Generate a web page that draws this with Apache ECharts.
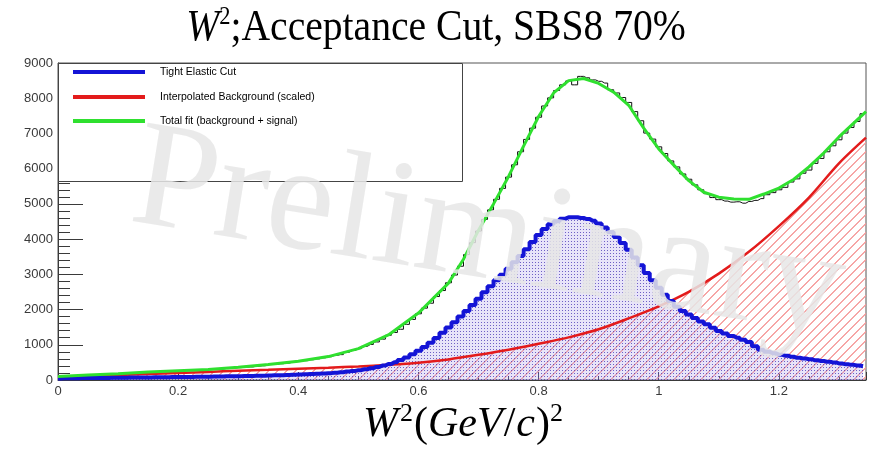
<!DOCTYPE html>
<html>
<head>
<meta charset="utf-8">
<script src="https://cdn.jsdelivr.net/npm/echarts@6/dist/echarts.min.js"></script>
<style>
  html, body { margin: 0; padding: 0; background: #fff; }
  #chart { width: 871px; height: 451px; }
</style>
</head>
<body>
<div id="chart"></div>
<script>
// W^2 spectrum with acceptance cut, SBS8 at 70% field.

// Histogram binning (bin centres) for the data and elastic histograms.
const histStart = 0;
const histWidth = 0.01;

// Measured W^2 spectrum (counts per bin).
const dataCounts = [
  95, 110, 118, 125, 132, 140, 150, 158, 165, 172,
  180, 188, 200, 205, 215, 225, 230, 240, 248, 255,
  262, 270, 268, 282, 290, 295, 305, 312, 325, 340,
  352, 365, 372, 392, 405, 440, 445, 462, 480, 505,
  530, 548, 575, 600, 630, 660, 700, 720, 790, 840,
  890, 955, 1010, 1080, 1160, 1270, 1350, 1440, 1580, 1720,
  1880, 2040, 2180, 2370, 2540, 2760, 2980, 3230, 3560, 3900,
  4230, 4560, 4830, 5130, 5440, 5760, 6110, 6480, 6830, 7150,
  7460, 7780, 8010, 8220, 8380, 8490, 8380, 8620, 8580, 8520,
  8480, 8430, 8240, 8150, 8020, 7880, 7620, 7360, 7010, 6840,
  6620, 6430, 6220, 6050, 5850, 5700, 5540, 5400, 5290, 5180,
  5120, 5080, 5050, 5060, 5020, 5070, 5100, 5150, 5260, 5320,
  5400, 5470, 5620, 5710, 5870, 5960, 6150, 6290, 6480, 6650,
  6820, 7010, 7170, 7340, 7560
];

// Tight elastic cut histogram (counts per bin).
const elasticCounts = [
  45, 48, 50, 52, 54, 55, 57, 58, 60, 62,
  64, 66, 68, 70, 72, 74, 76, 78, 80, 82,
  84, 86, 88, 90, 92, 95, 98, 100, 103, 106,
  110, 113, 117, 120, 124, 128, 132, 137, 142, 148,
  154, 160, 168, 176, 185, 195, 208, 222, 240, 258,
  280, 305, 335, 370, 410, 455, 505, 570, 640, 730,
  830, 940, 1060, 1190, 1340, 1490, 1640, 1800, 1960, 2130,
  2310, 2490, 2660, 2830, 2990, 3160, 3340, 3520, 3710, 3920,
  4120, 4290, 4420, 4510, 4580, 4620, 4620, 4600, 4570, 4520,
  4440, 4330, 4200, 4060, 3890, 3700, 3480, 3260, 3040, 2830,
  2620, 2420, 2240, 2080, 1960, 1860, 1760, 1660, 1580, 1480,
  1390, 1320, 1250, 1200, 1140, 1080, 960, 860, 800, 760,
  720, 690, 660, 630, 610, 590, 560, 540, 520, 500,
  470, 450, 430, 410, 390
];

// Interpolated background (scaled).
const backgroundX = [0, 0.05, 0.1, 0.15, 0.2, 0.25, 0.3, 0.35, 0.4, 0.45, 0.5, 0.55, 0.6, 0.65,
  0.7, 0.75, 0.8, 0.85, 0.9, 0.95, 1.0, 1.05, 1.1, 1.15, 1.2, 1.25, 1.3, 1.345];
const backgroundY = [80, 110, 140, 170, 200, 230, 265, 290, 320, 350, 385, 430, 490, 585,
  715, 860, 1030, 1210, 1440, 1750, 2090, 2500, 3020, 3640, 4370, 5180, 6150, 6880];

// Total fit (background + signal).
const fitX = [0, 0.05, 0.1, 0.15, 0.2, 0.25, 0.3, 0.35, 0.4, 0.45, 0.5, 0.55, 0.6, 0.65, 0.675,
  0.7, 0.725, 0.75, 0.775, 0.8, 0.825, 0.85, 0.875, 0.9, 0.925, 0.95, 0.975, 1.0, 1.025,
  1.05, 1.075, 1.1, 1.125, 1.15, 1.175, 1.2, 1.225, 1.25, 1.275, 1.3, 1.325, 1.345];
const fitY = [100, 140, 180, 225, 262, 295, 360, 440, 530, 665, 890, 1280, 1900, 2750, 3430,
  4250, 5000, 5780, 6640, 7480, 8150, 8500, 8560, 8420, 8170, 7800, 7150, 6560, 6100,
  5660, 5330, 5190, 5140, 5130, 5280, 5450, 5700, 6050, 6450, 6900, 7300, 7620];

const legendLabels = ['Tight Elastic Cut', 'Interpolated Background (scaled)', 'Total fit (background + signal)'];
const xRange = [0, 1.345];
const yRange = [0, 9000];

const colBlue = '#1414d6';
const colRed = '#e31b1b';
const colGreen = '#2fe02f';

function histPairs(counts) {
  return counts.map((v, i) => [+(histStart + i * histWidth).toFixed(3), v]);
}
function zip(xs, ys) { return xs.map((x, i) => [x, ys[i]]); }

// Fill textures: dotted fill for the elastic histogram, red hatching for background.
function dotTexture() {
  const c = document.createElement('canvas');
  c.width = 3; c.height = 3;
  const g = c.getContext('2d');
  g.fillStyle = 'rgba(180,165,235,0.3)';
  g.fillRect(0, 0, 3, 3);
  g.fillStyle = 'rgba(60,40,175,0.7)';
  g.fillRect(1, 1, 1, 1);
  return c;
}
function hatchTexture() {
  const n = 9;
  const c = document.createElement('canvas');
  c.width = n; c.height = n;
  const g = c.getContext('2d');
  g.fillStyle = 'rgba(245,150,150,0.85)';
  for (let i = 0; i < n; i++) {
    g.fillRect(i, n - 1 - i, 1, 1);
    g.fillRect((i + 1) % n, n - 1 - i, 1, 1);
  }
  return c;
}

// Lay out a run of differently styled text pieces side by side in a group.
const measureCtx = document.createElement('canvas').getContext('2d');
function textRun(pieces, cx, cy, sx, z) {
  let total = 0;
  const widths = pieces.map(p => { measureCtx.font = p.font; const w = measureCtx.measureText(p.t).width + (p.gap || 0); total += w; return w; });
  let x = -total / 2;
  const children = pieces.map((p, i) => {
    const el = {
      type: 'text', x: x, y: p.dy || 0, z: z, silent: true,
      style: { text: p.t, font: p.font, fill: '#000', textAlign: 'left', textVerticalAlign: 'middle', verticalAlign: 'middle' }
    };
    x += widths[i];
    return el;
  });
  return { type: 'group', x: cx, y: cy, scaleX: sx, z: z, silent: true, children: children };
}

const serif = '"Liberation Serif", "DejaVu Serif", serif';
const titleEl = textRun([
  { t: 'W', font: 'italic 44px ' + serif },
  { t: '2', font: '25px ' + serif, dy: -11 },
  { t: ';Acceptance Cut, SBS8 70%', font: '44px ' + serif }
], 436, 28, 0.9, 120);

const axisTitleEl = textRun([
  { t: 'W', font: 'italic 42px ' + serif, gap: 2 },
  { t: '2', font: '26px ' + serif, dy: -11, gap: 1 },
  { t: '(', font: '42px ' + serif },
  { t: 'GeV', font: 'italic 42px ' + serif, gap: 1 },
  { t: '/', font: '42px ' + serif, gap: 1 },
  { t: 'c', font: 'italic 42px ' + serif, gap: 1 },
  { t: ')', font: '42px ' + serif },
  { t: '2', font: '26px ' + serif, dy: -11 }
], 463, 425, 1, 120);

// Legend box drawn in the upper-left corner of the frame.
const legX = 58, legY = 63, legW = 404, legH = 118;
const legRows = [72, 97, 121];
const legColors = [colBlue, colRed, colGreen];
const legendEls = [
  { type: 'rect', z: 110, silent: true, shape: { x: legX + 0.5, y: legY + 0.5, width: legW, height: legH },
    style: { fill: '#fff', stroke: '#444', lineWidth: 1 } }
];
legRows.forEach((yy, i) => {
  legendEls.push({ type: 'line', z: 111, silent: true, shape: { x1: 73, y1: yy, x2: 145, y2: yy },
    style: { stroke: legColors[i], lineWidth: 4 } });
  legendEls.push({ type: 'text', z: 111, silent: true, x: 160, y: yy,
    style: { text: legendLabels[i], font: '10.5px "Liberation Sans", Arial, sans-serif', fill: '#000',
      textVerticalAlign: 'middle', verticalAlign: 'middle' } });
});

// "Preliminary" stamp across the plot, above the legend box.
const watermark = {
  type: 'text', z: 115, silent: true, x: 488, y: 238, rotation: -0.16,
  style: { text: 'Preliminary', font: '152px ' + serif, fill: 'rgba(230,230,230,0.85)',
    textAlign: 'center', align: 'center', textVerticalAlign: 'middle', verticalAlign: 'middle' }
};

const chart = echarts.init(document.getElementById('chart'), null, { renderer: 'canvas' });
const axisColor = '#3a3a3a';
const labelStyle = { color: '#3a3a3a', fontFamily: '"Liberation Sans", Arial, sans-serif', fontSize: 13 };

chart.setOption({
  animation: false,
  backgroundColor: '#fff',
  grid: { left: 58, right: 5, top: 63, bottom: 71, show: true, borderColor: '#555', borderWidth: 1, backgroundColor: '#fff' },
  xAxis: {
    type: 'value', min: xRange[0], max: xRange[1], interval: 0.2,
    axisLine: { show: true, lineStyle: { color: axisColor, width: 1 } },
    axisTick: { show: true, inside: true, length: 8, lineStyle: { color: axisColor } },
    minorTick: { show: true, splitNumber: 4, length: 4, lineStyle: { color: axisColor } },
    axisLabel: Object.assign({ margin: 5, showMaxLabel: false, formatter: v => String(+v.toFixed(2)) }, labelStyle),
    splitLine: { show: false }
  },
  yAxis: {
    type: 'value', min: yRange[0], max: yRange[1], interval: 1000,
    axisLine: { show: true, lineStyle: { color: axisColor, width: 1 } },
    axisTick: { show: true, inside: true, length: 25, lineStyle: { color: axisColor } },
    minorTick: { show: true, splitNumber: 5, length: 12, lineStyle: { color: axisColor } },
    axisLabel: Object.assign({ margin: 5, formatter: v => String(v) }, labelStyle),
    splitLine: { show: false }
  },
  series: [
    {
      name: 'Background fill', type: 'line', data: zip(backgroundX, backgroundY), symbol: 'none', smooth: 0.3,
      lineStyle: { width: 0, opacity: 0 }, areaStyle: { color: { image: hatchTexture(), repeat: 'repeat' }, opacity: 1 },
      silent: true, z: 1
    },
    {
      name: 'Elastic fill', type: 'line', step: 'middle', data: histPairs(elasticCounts), symbol: 'none',
      lineStyle: { width: 0, opacity: 0 }, areaStyle: { color: { image: dotTexture(), repeat: 'repeat' }, opacity: 1 },
      silent: true, z: 2
    },
    {
      name: legendLabels[1], type: 'line', data: zip(backgroundX, backgroundY), symbol: 'none', smooth: 0.3,
      lineStyle: { color: colRed, width: 2.5 }, z: 3
    },
    {
      name: legendLabels[0], type: 'line', step: 'middle', data: histPairs(elasticCounts), symbol: 'none',
      lineStyle: { color: colBlue, width: 4 }, z: 4
    },
    {
      name: 'Data', type: 'line', step: 'middle', data: histPairs(dataCounts), symbol: 'none',
      lineStyle: { color: '#111', width: 1 }, z: 5
    },
    {
      name: legendLabels[2], type: 'line', data: zip(fitX, fitY), symbol: 'none',
      lineStyle: { color: colGreen, width: 3 }, z: 6
    }
  ],
  graphic: { elements: [watermark].concat(legendEls, [titleEl, axisTitleEl]) }
});
</script>
</body>
</html>
